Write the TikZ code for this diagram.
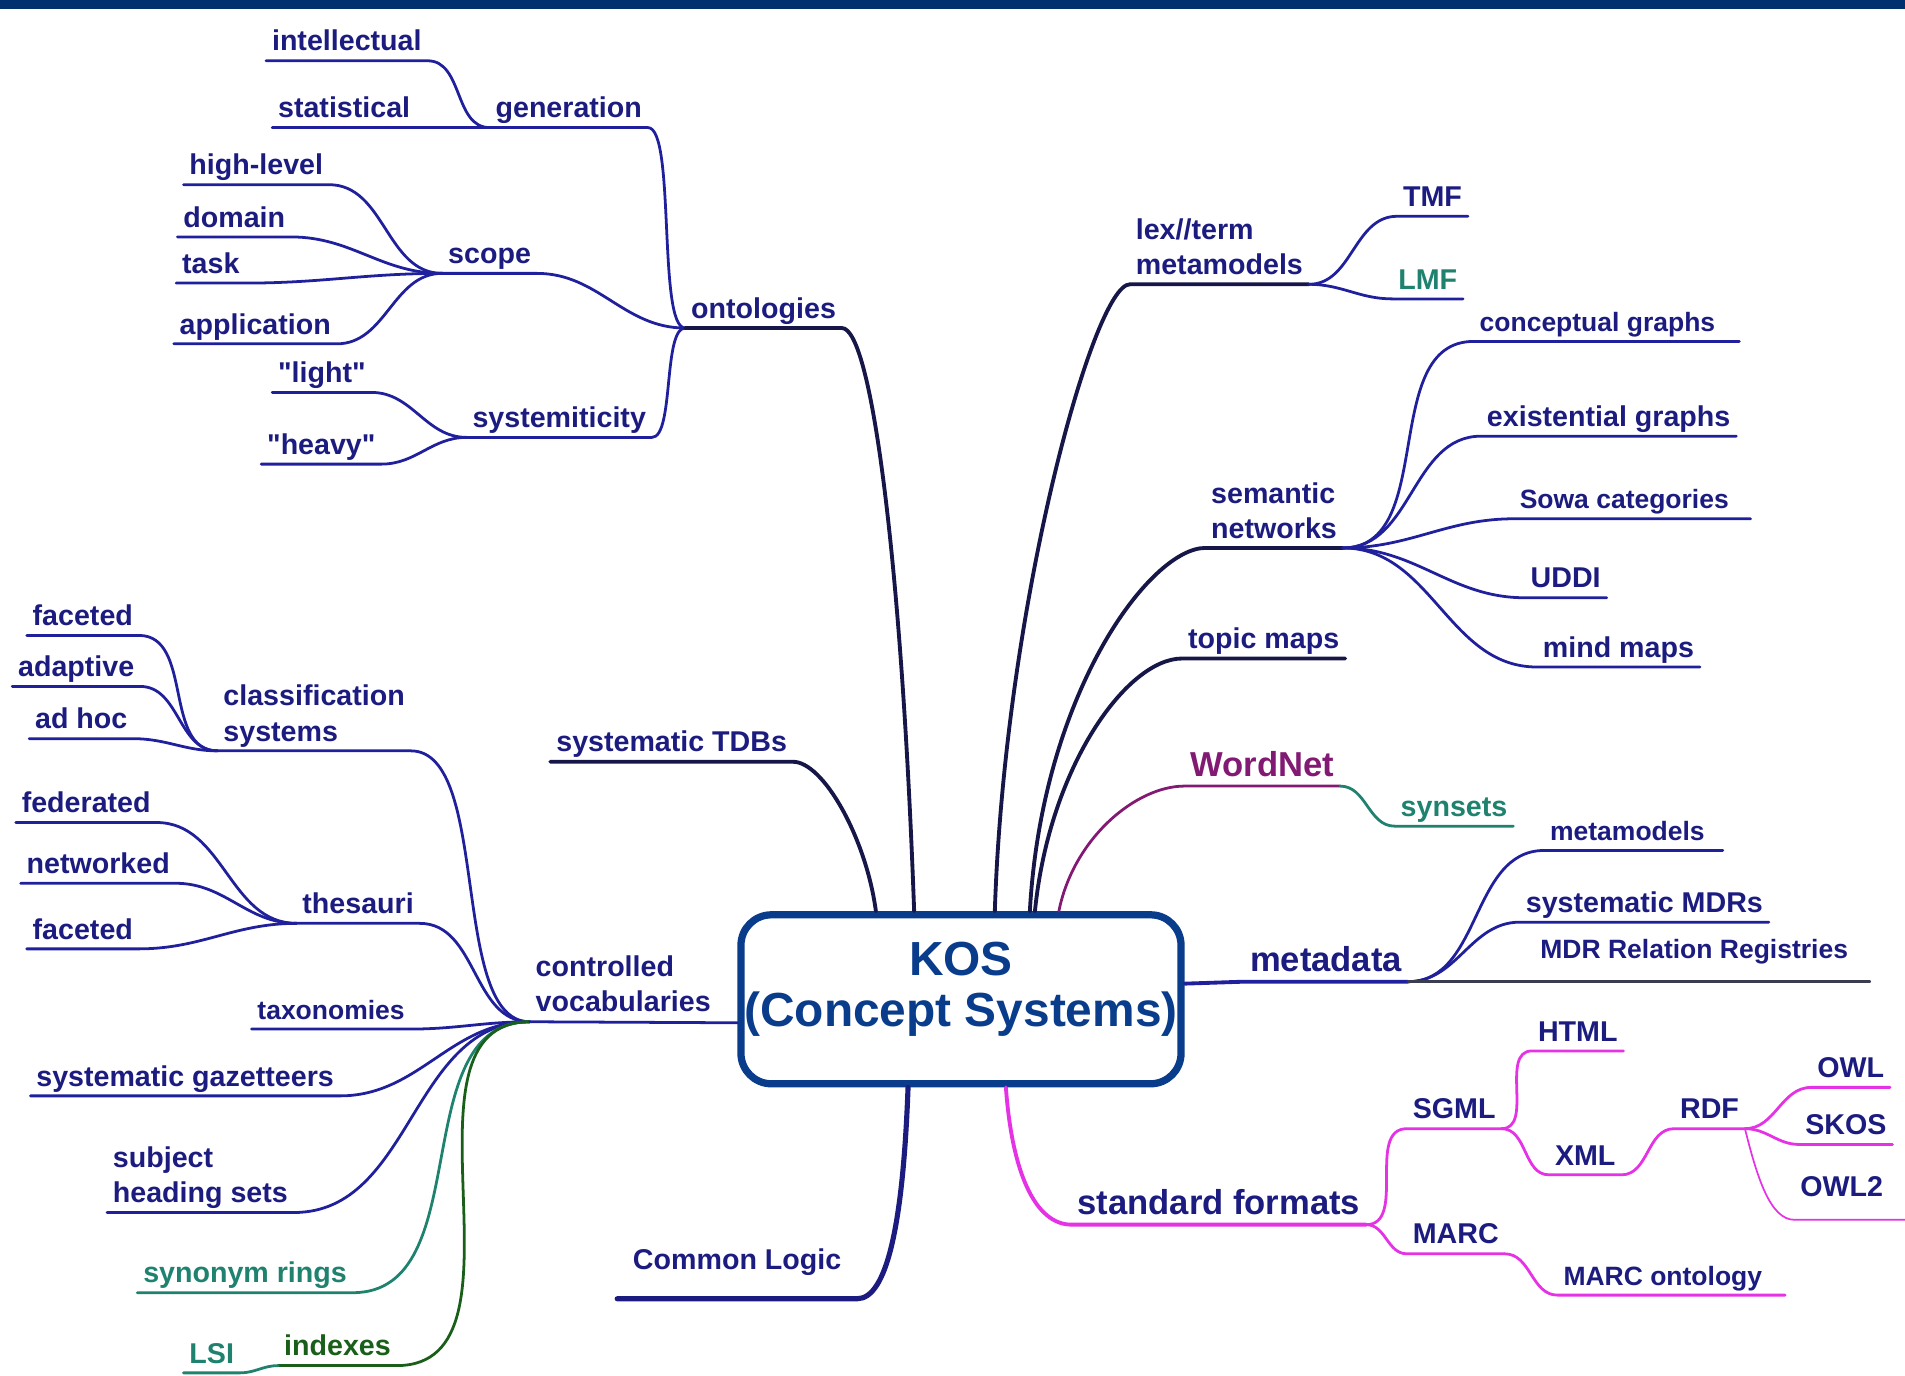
\documentclass[tikz,border=0pt]{standalone}
\usepackage{fontspec}
\setmainfont{Liberation Sans}
\definecolor{navytext}{RGB}{28,28,128}
\definecolor{lineblue}{RGB}{32,32,156}
\definecolor{darknavy}{RGB}{22,22,72}
\definecolor{kosblue}{RGB}{10,60,140}
\definecolor{topbar}{RGB}{0,48,110}
\definecolor{formatpink}{RGB}{228,50,228}
\definecolor{wordpurple}{RGB}{130,25,115}
\definecolor{synteal}{RGB}{30,130,110}
\definecolor{indexgreen}{RGB}{25,95,25}
\definecolor{mdrgrey}{RGB}{60,60,80}

\begin{document}
\begin{tikzpicture}[x=0.01cm,y=-0.01cm,line cap=round,
    lbl/.style={anchor=south west,inner xsep=1.4pt,inner ysep=2.3pt,outer sep=0pt,
        text depth=0pt,text=navytext,font=\bfseries\fontsize{6.7}{8.2}\selectfont},
    smalllbl/.style={font=\bfseries\fontsize{6.2}{7.6}\selectfont},
    biglbl/.style={font=\bfseries\fontsize{8.1}{9.8}\selectfont},
    leafline/.style={lineblue,line width=0.65pt},
    mainline/.style={darknavy,line width=0.9pt},
    scurve/.style={out=0,in=180},
    kosbox/.style={draw=kosblue,line width=1.7pt,rounded corners=0.25cm,fill=white,
        inner sep=0pt,minimum width=3.62cm,minimum height=1.39cm,text=kosblue,
        font=\bfseries\fontsize{11.2}{12}\selectfont}]
    \useasboundingbox (0,0) rectangle (1568,1132);
    \fill[topbar] (0,0) rectangle (1568,7);

    \node (kos) at (791,822.5) [kosbox] {\raisebox{2pt}[\height][\depth]{\begin{tabular}{@{}c@{}}KOS\\(Concept Systems)\end{tabular}}};

    % ontologies
    \node (intel)  at (219,50)  [lbl] {intellectual};
    \node (stat)   at (224,105) [lbl] {statistical};
    \node (gen)    at (403,105) [lbl] {generation};
    \node (hilev)  at (151,152) [lbl] {high-level};
    \node (domain) at (146,195) [lbl] {domain};
    \node (task)   at (145,233) [lbl] {task};
    \node (appl)   at (143,283) [lbl] {application};
    \node (scope)  at (364,225) [lbl] {scope};
    \node (onto)   at (564,270) [lbl] {ontologies};
    \node (light)  at (224,323) [lbl] {\textquotedbl light\textquotedbl};
    \node (heavy)  at (215,382) [lbl] {\textquotedbl heavy\textquotedbl};
    \node (syst)   at (384,360) [lbl] {systemiticity};
    \draw[leafline] (intel.south west) -- (intel.south east) to[scurve] (gen.south west);
    \draw[leafline] (stat.south west) -- (gen.south west) -- (gen.south east) to[scurve,looseness=0.35] (onto.south west);
    \draw[leafline] (hilev.south west) -- (hilev.south east) to[scurve] (scope.south west);
    \draw[leafline] (domain.south west) -- (domain.south east) to[scurve] (scope.south west);
    \draw[leafline] (task.south west) -- (task.south east) to[scurve] (scope.south west);
    \draw[leafline] (appl.south west) -- (appl.south east) to[scurve] (scope.south west);
    \draw[leafline] (scope.south west) -- (scope.south east) to[scurve] (onto.south west);
    \draw[leafline] (light.south west) -- (light.south east) to[scurve] (syst.south west);
    \draw[leafline] (heavy.south west) -- (heavy.south east) to[scurve] (syst.south west);
    \draw[leafline] (syst.south west) -- (syst.south east) to[scurve,looseness=0.5] (onto.south west);
    \draw[mainline] (onto.south west) -- (onto.south east) .. controls +(25,0) and +(-10,-280) .. (kos.118);

    % systematic TDBs
    \node (tdb) at (453,627) [lbl] {systematic TDBs};
    \draw[mainline] (tdb.south west) -- (tdb.south east) .. controls +(25,0) and +(-8,-60) .. (kos.134);

    % controlled vocabularies
    \node (facet1)  at (22,523)  [lbl] {faceted};
    \node (adapt)   at (10,565)  [lbl] {adaptive};
    \node (adhoc)   at (24,608)  [lbl] {ad hoc};
    \node (classif) at (179,618) [lbl] {\begin{tabular}[b]{@{}l@{}}classification\\systems\end{tabular}};
    \node (feder)   at (13,677)  [lbl] {federated};
    \node (netw)    at (17,727)  [lbl] {networked};
    \node (facet2)  at (22,781)  [lbl] {faceted};
    \node (thes)    at (244,760) [lbl] {thesauri};
    \node (taxo)    at (207,847) [lbl,smalllbl] {taxonomies};
    \node (gazet)   at (25,902)  [lbl] {systematic gazetteers};
    \node (subj)    at (88,998)  [lbl] {\begin{tabular}[b]{@{}l@{}}subject\\heading sets\end{tabular}};
    \node (synring) at (113,1064) [lbl,text=synteal] {synonym rings};
    \node (index)   at (229,1124) [lbl,text=indexgreen] {indexes};
    \node (lsi)     at (151,1130) [lbl,text=synteal] {LSI};
    \node (ctrl)    at (436,841) [lbl] {\begin{tabular}[b]{@{}l@{}}controlled\\vocabularies\end{tabular}};
    \draw[leafline] (facet1.south west) -- (facet1.south east) to[scurve] (classif.south west);
    \draw[leafline] (adapt.south west) -- (adapt.south east) to[scurve] (classif.south west);
    \draw[leafline] (adhoc.south west) -- (adhoc.south east) to[scurve] (classif.south west);
    \draw[leafline] (classif.south west) -- (classif.south east) to[scurve,looseness=0.7] (ctrl.south west);
    \draw[leafline] (feder.south west) -- (feder.south east) to[scurve] (thes.south west);
    \draw[leafline] (netw.south west) -- (netw.south east) to[scurve] (thes.south west);
    \draw[leafline] (facet2.south west) -- (facet2.south east) to[scurve] (thes.south west);
    \draw[leafline] (thes.south west) -- (thes.south east) to[scurve] (ctrl.south west);
    \draw[leafline] (taxo.south west) -- (taxo.south east) to[scurve] (ctrl.south west);
    \draw[leafline] (gazet.south west) -- (gazet.south east) to[scurve] (ctrl.south west);
    \draw[leafline] (subj.south west) -- (subj.south east) to[scurve] (ctrl.south west);
    \draw[leafline,synteal] (synring.south west) -- (synring.south east) to[scurve] (ctrl.south west);
    \draw[leafline,indexgreen] (index.south west) -- (index.south east) to[scurve] (ctrl.south west);
    \draw[leafline,synteal] (lsi.south west) -- (lsi.south east) to[scurve] (index.south west);
    \draw[leafline] (ctrl.south west) -- (kos.186);

    % Common Logic
    \node (clogic) at (508,1069) [lbl,inner xsep=3.7pt,inner ysep=6.8pt] {Common Logic};
    \draw[mainline,navytext,line width=1.2pt] (clogic.south west) -- (clogic.south east) .. controls +(25,0) and +(-4,110) .. (kos.239);

    % lex//term metamodels
    \node (lexterm) at (930,234)  [lbl] {\begin{tabular}[b]{@{}l@{}}lex//term\\metamodels\end{tabular}};
    \node (tmf)     at (1150,178) [lbl] {TMF};
    \node (lmf)     at (1146,246) [lbl,text=synteal] {LMF};
    \draw[mainline] (kos.69) .. controls +(8,-250) and +(-30,0) .. (lexterm.south west) -- (lexterm.south east);
    \draw[leafline] (lexterm.south east) to[scurve] (tmf.south west) -- (tmf.south east);
    \draw[leafline] (lexterm.south east) to[scurve] (lmf.south west) -- (lmf.south east);

    % semantic networks
    \node (semnet) at (992,451)  [lbl] {\begin{tabular}[b]{@{}l@{}}semantic\\networks\end{tabular}};
    \node (concg)  at (1213,281) [lbl,smalllbl] {conceptual graphs};
    \node (existg) at (1219,359) [lbl] {existential graphs};
    \node (sowa)   at (1246,427) [lbl,smalllbl] {Sowa categories};
    \node (uddi)   at (1255,492) [lbl] {UDDI};
    \node (mindm)  at (1265,549) [lbl] {mind maps};
    \draw[mainline] (kos.52) .. controls +(10,-180) and +(-45,0) .. (semnet.south west) -- (semnet.south east);
    \draw[leafline] (semnet.south east) to[scurve] (concg.south west) -- (concg.south east) -- ++(15,0);
    \draw[leafline] (semnet.south east) to[scurve] (existg.south west) -- (existg.south east);
    \draw[leafline] (semnet.south east) to[scurve] (sowa.south west) -- (sowa.south east) -- ++(13,0);
    \draw[leafline] (semnet.south east) to[scurve] (uddi.south west) -- (uddi.south east);
    \draw[leafline] (semnet.south east) to[scurve] (mindm.south west) -- (mindm.south east);

    % topic maps, WordNet
    \node (topicm)  at (973,542)  [lbl] {topic maps};
    \node (wordnet) at (975,647)  [lbl,biglbl,text=wordpurple] {WordNet};
    \node (synsets) at (1148,680) [lbl,text=synteal] {synsets};
    \draw[mainline] (kos.50) .. controls +(12,-120) and +(-45,0) .. (topicm.south west) -- (topicm.south east);
    \draw[leafline,wordpurple] (kos.42) .. controls +(12,-60) and +(-40,0) .. (wordnet.south west) -- (wordnet.south east);
    \draw[leafline,synteal] (wordnet.south east) to[scurve] (synsets.south west) -- (synsets.south east);

    % metadata
    \node (metad)  at (1024,808) [lbl,biglbl] {metadata};
    \node (metam)  at (1271,700) [lbl,smalllbl] {metamodels};
    \node (sysmdr) at (1251,759) [lbl] {systematic MDRs};
    \node (mdrrel) at (1263,808) [lbl,smalllbl,inner ysep=5.4pt] {MDR Relation Registries};
    \draw[mainline,lineblue] (kos.4) -- (metad.south west) -- (metad.south east);
    \draw[leafline] (metad.south east) to[scurve] (metam.south west) -- (metam.south east) -- ++(10,0);
    \draw[leafline] (metad.south east) to[scurve] (sysmdr.south west) -- (sysmdr.south east);
    \draw[leafline,mdrgrey] (metad.south east) -- (mdrrel.south east) -- ++(13,0);

    % standard formats
    \node (stdform) at (882,1008)  [lbl,biglbl] {standard formats};
    \node (sgml)    at (1158,929)  [lbl] {SGML};
    \node (marc)    at (1158,1032) [lbl] {MARC};
    \node (html)    at (1261,865)  [lbl] {HTML};
    \node (xml)     at (1275,967)  [lbl] {XML};
    \node (rdf)     at (1378,929)  [lbl] {RDF};
    \node (owl)     at (1491,895)  [lbl] {OWL};
    \node (skos)    at (1481,942)  [lbl] {SKOS};
    \node (owltwo)  at (1477,1004) [lbl,inner ysep=5.4pt] {OWL2};
    \node (marcont) at (1282,1066) [lbl,smalllbl] {MARC ontology};
    \draw[mainline,formatpink] (kos.297) .. controls +(5,70) and +(-30,0) .. (stdform.south west) -- (stdform.south east);
    \draw[leafline,formatpink] (stdform.south east) to[scurve] (sgml.south west) -- (sgml.south east);
    \draw[leafline,formatpink] (stdform.south east) to[scurve] (marc.south west) -- (marc.south east);
    \draw[leafline,formatpink] (sgml.south east) to[scurve] (html.south west) -- (html.south east);
    \draw[leafline,formatpink] (sgml.south east) to[scurve] (xml.south west) -- (xml.south east) to[scurve] (rdf.south west) -- (rdf.south east);
    \draw[leafline,formatpink] (rdf.south east) to[scurve] (owl.south west) -- (owl.south east);
    \draw[leafline,formatpink] (rdf.south east) to[scurve] (skos.south west) -- (skos.south east);
    \draw[formatpink,line width=0.4pt] (rdf.south east) .. controls +(10,40) and +(-20,0) .. (owltwo.south west) -- (owltwo.south east) -- ++(13,0);
    \draw[leafline,formatpink] (marc.south east) to[scurve] (marcont.south west) -- (marcont.south east) -- ++(14,0);
\end{tikzpicture}
\end{document}
